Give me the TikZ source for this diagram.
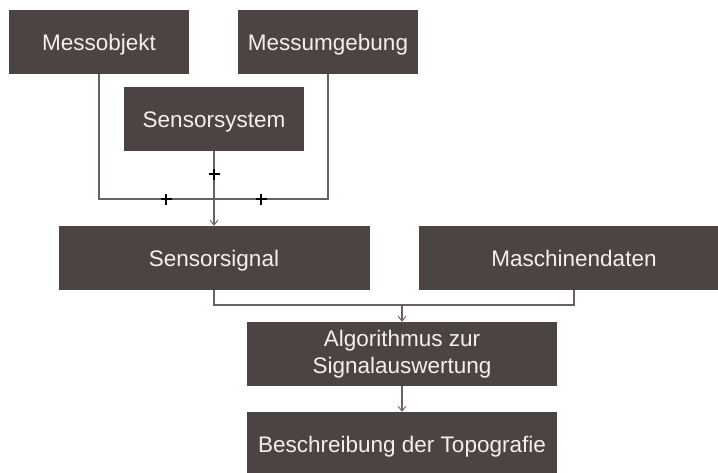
\documentclass[tikz,border=0pt]{standalone}
\usepackage{fontspec}
\setmainfont{Liberation Sans}
\usetikzlibrary{arrows.meta}
\definecolor{boxfill}{HTML}{4B4442}
\definecolor{boxtext}{HTML}{F2F0EE}
\definecolor{linegray}{HTML}{6A625F}
\tikzset{
  box/.style={draw=none, fill=boxfill, text=boxtext, minimum height=64pt,
    inner sep=0pt, align=center, font=\fontsize{22.5}{27.5}\selectfont},
  oneline/.style={text height=16.2pt, text depth=0pt},
  conn/.style={draw=linegray, line width=1.1pt},
  arr/.style={conn, -{Straight Barb[length=5pt,width=8pt,line width=0.9pt]}},
  plusmark/.pic={\draw[line width=2.8pt, black] (-5.5pt,0) -- (5.5pt,0) (0,-5.5pt) -- (0,5.5pt);}
}
\begin{document}
\begin{tikzpicture}[x=1pt, y=-1pt]
\useasboundingbox (0,0) rectangle (718,472);
\fill[white] (0,0) rectangle (718,472);
\begin{scope}
\clip (0,0) rectangle (718,472);
\node[box, oneline, minimum width=180pt] (mo) at (99,42) {Messobjekt};
\node[box, oneline, minimum width=180pt] (mu) at (328,42) {Messumgebung};
\node[box, oneline, minimum width=180pt] (ss) at (214,119) {Sensorsystem};
\node[box, oneline, minimum width=311pt] (sig) at (214,258) {Sensorsignal};
\node[box, oneline, minimum width=311pt] (md) at (574,258) {Maschinendaten};
\node[box, minimum width=310pt] (alg) at (402,354) {Algorithmus zur\\Signalauswertung};
\node[box, oneline, minimum width=310pt] (bes) at (402,444) {Beschreibung der Topografie};
\end{scope}
\coordinate (j1) at (214,199);
\coordinate (j2) at (402,305);
\draw[conn] (mo.south) |- (j1);
\draw[conn] (mu.south) |- (j1);
\draw[arr] (ss.south) -- (sig.north);
\draw[conn] (sig.south) |- (j2);
\draw[conn] (md.south) |- (j2);
\draw[arr] (j2) -- (alg.north);
\draw[arr] (alg.south) -- (bes.north);
\pic at (166,199) {plusmark};
\pic at (261,199) {plusmark};
\pic at (214,174) {plusmark};
\end{tikzpicture}
\end{document}
